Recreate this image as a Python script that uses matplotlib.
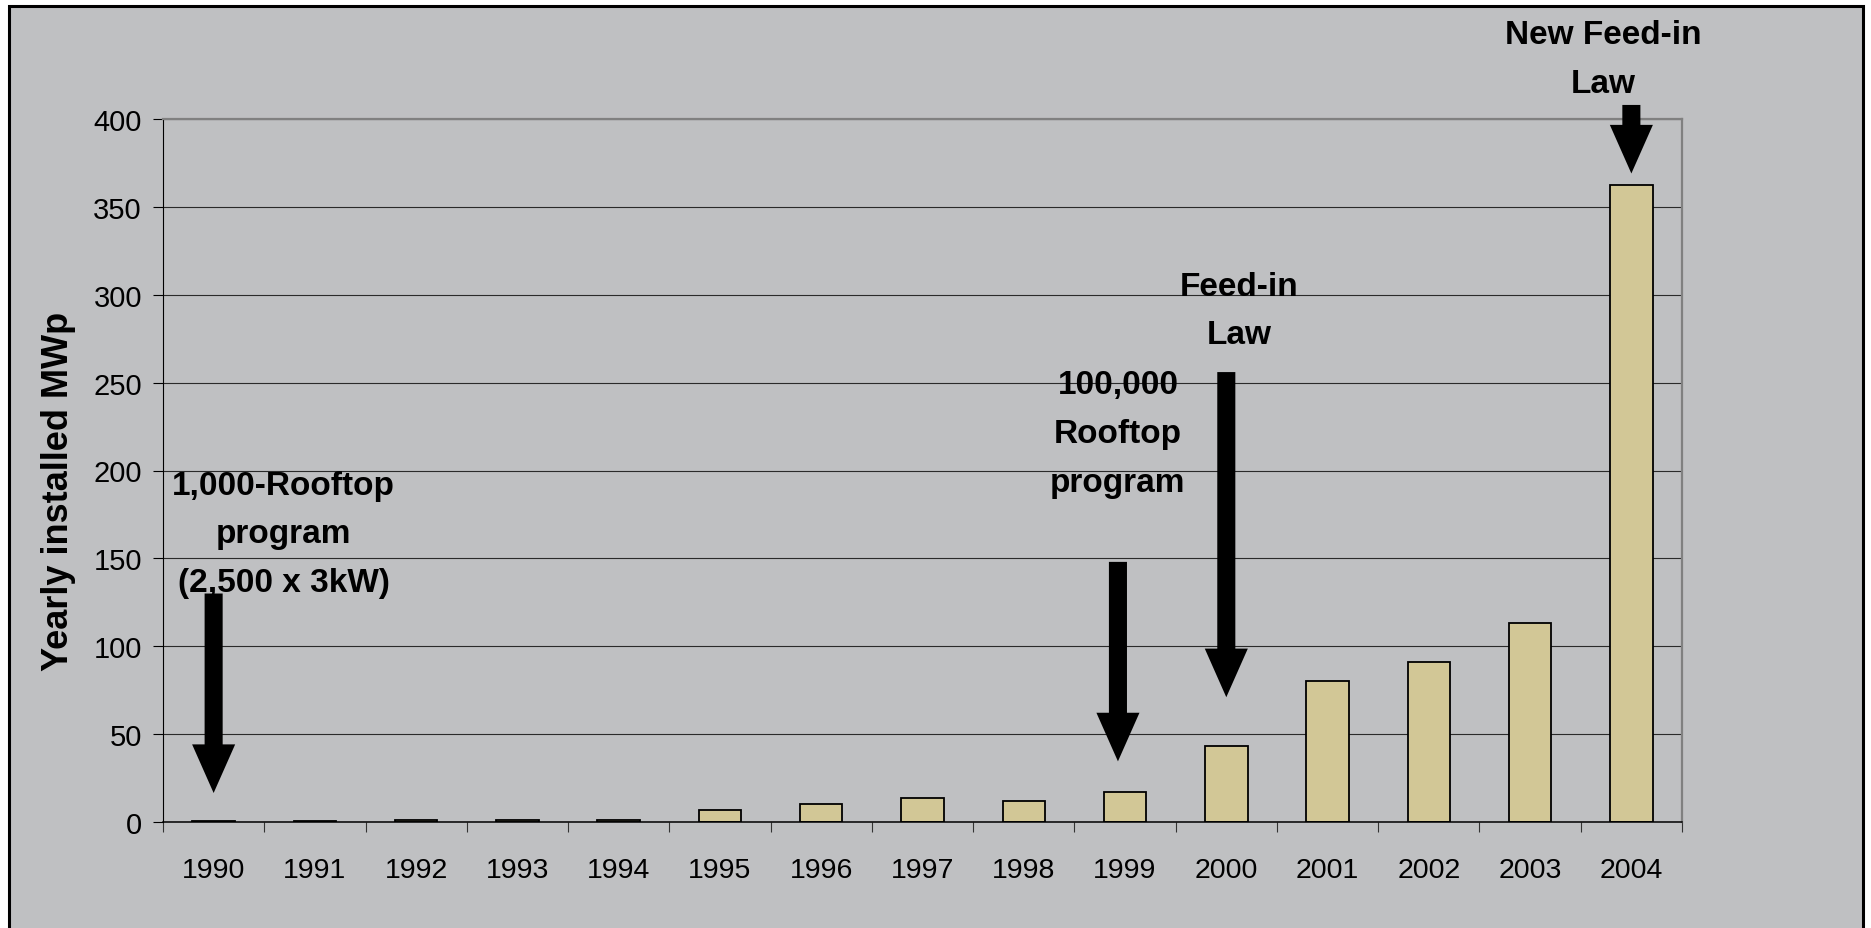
import matplotlib.pyplot as plt
from matplotlib.patches import Rectangle
from matplotlib.ticker import MultipleLocator, FixedLocator

plt.rcParams["font.family"] = ["Liberation Sans", "DejaVu Sans"]

# Yearly installed PV capacity in Germany (MWp)
years = ["1990", "1991", "1992", "1993", "1994", "1995", "1996", "1997",
         "1998", "1999", "2000", "2001", "2002", "2003", "2004"]
installed_mwp = [0.8, 0.7, 0.9, 1.0, 1.2, 6.8, 10.2, 13.4, 12.2, 17.0,
                 43.0, 80.5, 91.0, 113.0, 362.5]

# Policy milestones: label, x position (category index), label centre height,
# arrow tail and arrow tip (MWp)
event_labels = ["1,000-Rooftop\nprogram\n(2,500 x 3kW)",
                "100,000\nRooftop\nprogram",
                "Feed-in\nLaw",
                "New Feed-in\nLaw"]
event_text_x = [0.69, 8.93, 10.13, 13.72]
event_text_y = [164, 221, 291, 434]
event_arrow_x = [0.0, 8.93, 10.0, 14.0]
event_arrow_from = [130, 148, 256, 408]
event_arrow_to = [16.5, 34.5, 71, 369]

bg = "#BFC0C2"
bar_color = "#D2C796"

W, H = 1871, 929
fig = plt.figure(figsize=(W / 100, H / 100), dpi=100)
fig.patch.set_facecolor("white")

# grey panel with a black frame
frame = Rectangle((9 / W, -0.02), (1863 - 9) / W, 1 - 7 / H + 0.02,
                  transform=fig.transFigure, facecolor=bg, edgecolor="black",
                  linewidth=2.2, zorder=-10)
fig.add_artist(frame)

ax = fig.add_axes([163 / W, 1 - 823 / H, (1682 - 163) / W, (823 - 120) / H])
ax.set_facecolor(bg)

x = range(len(years))
ax.bar(x, installed_mwp, width=0.42, color=bar_color, edgecolor="black",
       linewidth=1.3, zorder=2)

ax.set_xlim(-0.5, len(years) - 0.5)
ax.set_ylim(0, 400)

# y axis
ax.yaxis.set_major_locator(MultipleLocator(50))
ax.grid(axis="y", color="#2a2a2a", linewidth=0.8, zorder=0)
ax.set_axisbelow(True)
ax.tick_params(axis="y", direction="out", length=7.2, width=0.8, pad=8,
               labelsize=21, colors="black")

# x axis: labels in the middle of categories, tick marks between them
ax.set_xticks(list(x))
ax.set_xticklabels(years)
ax.xaxis.set_minor_locator(FixedLocator([i - 0.5 for i in range(len(years) + 1)]))
ax.tick_params(axis="x", which="major", length=0, pad=25.5, labelsize=20.5)
ax.tick_params(axis="x", which="minor", direction="out", length=7.2,
               width=0.8, color="#333333")

for side in ["top", "right"]:
    ax.spines[side].set_color("#808080")
    ax.spines[side].set_linewidth(1.6)
ax.spines["left"].set_color("black")
ax.spines["left"].set_linewidth(0.8)
ax.spines["bottom"].set_color("black")
ax.spines["bottom"].set_linewidth(1.1)

ax.set_ylabel("Yearly installed MWp", fontsize=26, fontweight="bold",
              va="center")
ax.yaxis.set_label_coords(-0.0685, 0.472)

# milestone arrows and labels
for label, tx, ty, axx, y0, y1 in zip(event_labels, event_text_x, event_text_y,
                                       event_arrow_x, event_arrow_from,
                                       event_arrow_to):
    ax.annotate("", xy=(axx, y1), xytext=(axx, y0),
                arrowprops=dict(arrowstyle="simple,head_length=35,head_width=31,tail_width=13",
                                mutation_scale=1, facecolor="black",
                                edgecolor="none", shrinkA=0, shrinkB=0),
                annotation_clip=False, zorder=5)
    ax.text(tx, ty, label, ha="center", va="center", multialignment="center",
            fontsize=24, fontweight="bold", linespacing=1.74, zorder=6,
            clip_on=False)

fig.savefig("out.png", dpi=100, facecolor=fig.get_facecolor())
